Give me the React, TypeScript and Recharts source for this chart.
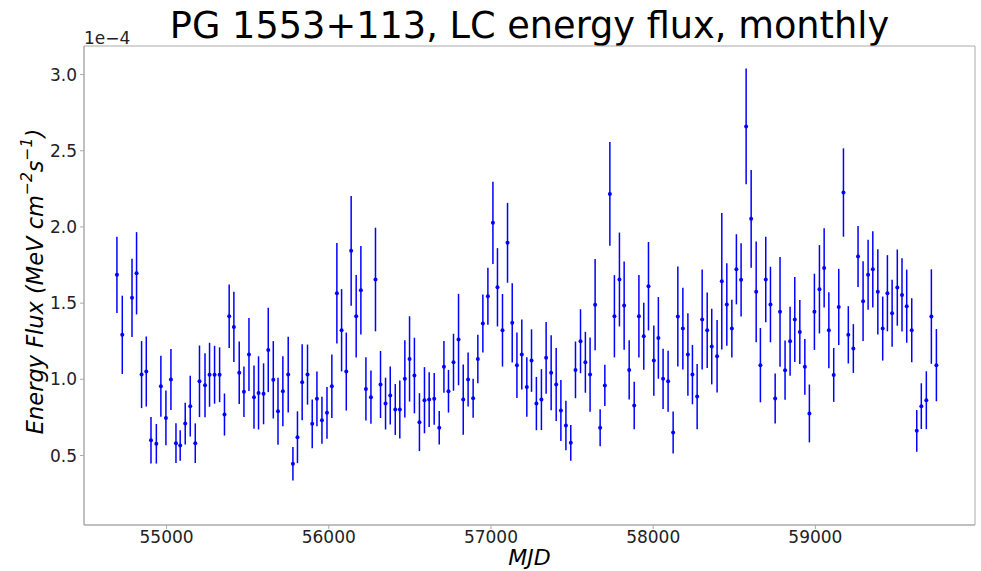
import { ComposedChart, Scatter, ErrorBar, XAxis, YAxis, ReferenceArea, Label } from 'recharts';

// monthly bins, MJD
const mjd = [
  54694, 54727, 54787, 54815, 54846, 54875, 54904, 54937, 54965, 54996,
  55027, 55058, 55084, 55115, 55146, 55177, 55203, 55237, 55265, 55296,
  55327, 55357, 55386, 55415, 55448, 55477, 55508, 55539, 55567, 55598,
  55627, 55658, 55687, 55717, 55750, 55779, 55807, 55836, 55869, 55898,
  55927, 55958, 55989, 56019, 56050, 56079, 56108, 56138, 56169, 56198,
  56229, 56260, 56288, 56319, 56350, 56379, 56410, 56438, 56469, 56498,
  56528, 56559, 56590, 56619, 56650, 56681, 56710, 56738, 56769, 56800,
  56829, 56859, 56890, 56919, 56950, 56981, 57012, 57040, 57071, 57102,
  57131, 57160, 57190, 57221, 57250, 57280, 57311, 57340, 57371, 57402,
  57431, 57462, 57492, 57521, 57552, 57582, 57611, 57642, 57673, 57702,
  57733, 57761, 57792, 57821, 57852, 57883, 57912, 57942, 57971, 58004,
  58032, 58061, 58092, 58123, 58152, 58183, 58214, 58242, 58271, 58302,
  58333, 58361, 58394, 58423, 58454, 58485, 58513, 58542, 58573, 58604,
  58635, 58661, 58694, 58723, 58752, 58782, 58813, 58844, 58873, 58904,
  58935, 58963, 58994, 59025, 59054, 59083, 59113, 59144, 59173, 59203,
  59234, 59263, 59294, 59325, 59354, 59385, 59415, 59444, 59473, 59505,
  59534, 59563, 59594, 59625, 59653, 59684, 59715, 59746,
];

// energy flux, units of 1e-4 MeV cm^-2 s^-1
const flux = [
  1.686, 1.292, 1.535, 1.696, 1.031, 1.051, 0.600, 0.577, 0.955, 0.747,
  0.999, 0.581, 0.566, 0.710, 0.824, 0.581, 0.987, 0.961, 1.030, 1.030,
  1.030, 0.769, 1.414, 1.344, 1.043, 0.918, 1.163, 0.883, 0.911, 0.905,
  1.193, 0.997, 0.791, 0.922, 1.031, 0.446, 0.620, 0.981, 1.031, 0.708,
  0.872, 0.732, 0.780, 0.955, 1.565, 1.322, 1.051, 1.843, 1.414, 1.585,
  0.937, 0.883, 1.655, 0.966, 0.841, 0.894, 0.802, 0.802, 1.003, 1.134,
  1.025, 0.719, 0.863, 0.867, 0.872, 0.682, 1.082, 0.922, 1.112, 1.261,
  0.867, 0.999, 0.876, 1.134, 1.366, 1.545, 2.027, 1.604, 1.322, 1.896,
  1.371, 1.093, 1.163, 0.950, 1.123, 0.841, 0.867, 1.141, 1.043, 0.966,
  0.795, 0.697, 0.583, 1.062, 1.250, 1.112, 1.031, 1.490, 0.682, 0.960,
  2.217, 1.414, 1.655, 1.484, 1.062, 0.828, 1.414, 1.283, 1.611, 1.123,
  1.272, 1.003, 0.987, 0.651, 1.412, 1.333, 1.163, 1.031, 0.887, 1.392,
  1.322, 1.215, 1.152, 1.644, 1.491, 1.333, 1.722, 1.653, 2.660, 2.053,
  1.574, 1.093, 1.655, 1.491, 0.874, 1.443, 1.060, 1.250, 1.392, 1.311,
  1.082, 0.776, 1.443, 1.591, 1.731, 1.322, 1.029, 1.475, 2.226, 1.292,
  1.202, 1.806, 1.513, 1.686, 1.722, 1.574, 1.333, 1.565, 1.434, 1.602,
  1.554, 1.480, 1.322, 0.662, 0.824, 0.863, 1.412, 1.093,
];

const fluxErr = [
  0.250, 0.257, 0.257, 0.270, 0.220, 0.230, 0.153, 0.130, 0.200, 0.180,
  0.200, 0.130, 0.100, 0.137, 0.200, 0.130, 0.235, 0.210, 0.210, 0.190,
  0.180, 0.138, 0.208, 0.230, 0.205, 0.166, 0.240, 0.207, 0.240, 0.200,
  0.277, 0.254, 0.220, 0.230, 0.248, 0.110, 0.170, 0.250, 0.197, 0.160,
  0.180, 0.154, 0.170, 0.208, 0.330, 0.270, 0.256, 0.360, 0.270, 0.290,
  0.208, 0.175, 0.340, 0.220, 0.170, 0.190, 0.167, 0.190, 0.254, 0.280,
  0.248, 0.190, 0.217, 0.180, 0.170, 0.110, 0.170, 0.140, 0.187, 0.300,
  0.230, 0.177, 0.128, 0.159, 0.190, 0.187, 0.270, 0.257, 0.238, 0.262,
  0.260, 0.215, 0.230, 0.195, 0.205, 0.175, 0.200, 0.235, 0.246, 0.240,
  0.200, 0.163, 0.118, 0.186, 0.210, 0.200, 0.243, 0.300, 0.122, 0.135,
  0.340, 0.270, 0.308, 0.290, 0.195, 0.156, 0.270, 0.220, 0.290, 0.230,
  0.268, 0.197, 0.200, 0.138, 0.328, 0.268, 0.270, 0.195, 0.214, 0.328,
  0.248, 0.248, 0.238, 0.448, 0.270, 0.190, 0.230, 0.240, 0.380, 0.320,
  0.330, 0.244, 0.280, 0.248, 0.164, 0.360, 0.194, 0.226, 0.279, 0.210,
  0.183, 0.190, 0.250, 0.290, 0.260, 0.250, 0.177, 0.250, 0.290, 0.188,
  0.160, 0.200, 0.262, 0.230, 0.250, 0.280, 0.210, 0.250, 0.220, 0.250,
  0.240, 0.240, 0.210, 0.137, 0.150, 0.190, 0.310, 0.237,
];

const xTicks = [55000, 56000, 57000, 58000, 59000];
const yTicks = [0.5, 1.0, 1.5, 2.0, 2.5, 3.0];

const X_MIN = 54491;
const X_MAX = 59984;
const Y_MIN = 0.044;
const Y_MAX = 3.1875;

const FONT = '"DejaVu Sans", sans-serif';
const BLUE = '#0000ff';

const rows = mjd.map((m, i) => ({ mjd: m, flux: flux[i], err: fluxErr[i] }));

const Dot = (props: any) => <circle cx={props.cx} cy={props.cy} r={2} fill={BLUE} />;

function YTitle(props: any) {
  const vb = props.viewBox || {};
  const cx = 35;
  const cy = vb.y + vb.height / 2 - 4;
  return (
    <text
      x={cx}
      y={cy}
      transform={`rotate(-90, ${cx}, ${cy})`}
      textAnchor="middle"
      dominantBaseline="central"
      fontFamily={FONT}
      fontStyle="italic"
      fontSize={22.5}
      fill="#000"
    >
      Energy Flux (MeV cm
      <tspan dy={-8} fontSize={15.5}>−2</tspan>
      <tspan dy={8}>s</tspan>
      <tspan dy={-8} fontSize={15.5}>−1</tspan>
      <tspan dy={8}>)</tspan>
    </text>
  );
}

export default function App() {
  return (
    <div style={{ position: 'absolute', left: 0, top: 0, width: 981, height: 571, background: '#fff' }}>
      <div
        style={{
          position: 'absolute',
          left: 84,
          width: 891,
          top: 4,
          textAlign: 'center',
          fontFamily: FONT,
          fontSize: 36.7,
          color: '#000',
          lineHeight: '44px',
        }}
      >
        PG 1553+113, LC energy flux, monthly
      </div>
      <div
        style={{
          position: 'absolute',
          left: 84,
          top: 28,
          fontFamily: FONT,
          fontSize: 17,
          color: '#222',
        }}
      >
        1e−4
      </div>
      <ComposedChart
        width={981}
        height={571}
        data={rows}
        margin={{ top: 46, right: 6, bottom: 0, left: 0 }}
      >
        <XAxis
          type="number"
          dataKey="mjd"
          domain={[X_MIN, X_MAX]}
          ticks={xTicks}
          allowDataOverflow
          height={46}
          tickSize={4}
          tickMargin={2}
          stroke="#aaa"
          tick={{ fontSize: 17, fontFamily: FONT, fill: '#222' }}
        >
          <Label
            value="MJD"
            position="insideBottom"
            offset={6}
            style={{ fontSize: 22, fontStyle: 'italic', fontFamily: FONT, fill: '#000' }}
          />
        </XAxis>
        <YAxis
          type="number"
          dataKey="flux"
          domain={[Y_MIN, Y_MAX]}
          ticks={yTicks}
          allowDataOverflow
          width={84}
          tickSize={4}
          tickMargin={3}
          stroke="#aaa"
          tickFormatter={(v: number) => v.toFixed(1)}
          tick={{ fontSize: 17, fontFamily: FONT, fill: '#222' }}
        >
          <Label content={YTitle} />
        </YAxis>
        <ReferenceArea
          x1={X_MIN}
          x2={X_MAX}
          y1={Y_MIN}
          y2={Y_MAX}
          fill="none"
          stroke="#aaa"
          strokeWidth={1}
          ifOverflow="visible"
        />
        <Scatter dataKey="flux" fill={BLUE} shape={Dot} isAnimationActive={false}>
          <ErrorBar dataKey="err" direction="y" width={0} stroke={BLUE} strokeWidth={1.5} isAnimationActive={false} />
        </Scatter>
      </ComposedChart>
    </div>
  );
}
